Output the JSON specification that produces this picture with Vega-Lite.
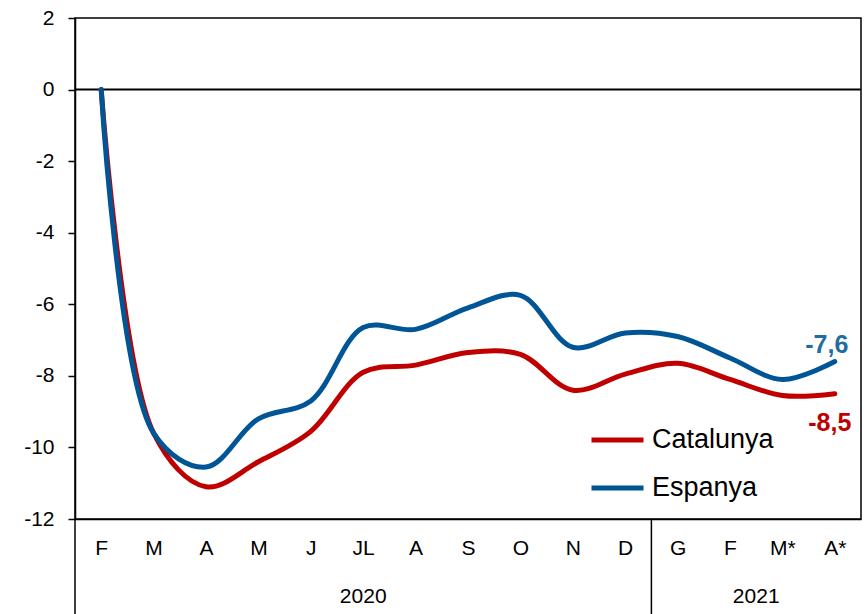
{
  "$schema": "https://vega.github.io/schema/vega-lite/v6.json",
  "width": 786,
  "height": 501,
  "autosize": {"type": "none"},
  "padding": {"left": 75, "top": 18, "right": 5, "bottom": 95},
  "background": "white",
  "view": {"stroke": "black", "strokeWidth": 1.5},
  "config": {"font": "Liberation Sans"},
  "datasets": {
    "series": [
      {"idx": 0, "month": "F", "serie": "Catalunya", "value": 0},
      {"idx": 1, "month": "M", "serie": "Catalunya", "value": -9.6},
      {"idx": 2, "month": "A", "serie": "Catalunya", "value": -11.1},
      {"idx": 3, "month": "M", "serie": "Catalunya", "value": -10.4},
      {"idx": 4, "month": "J", "serie": "Catalunya", "value": -9.55},
      {"idx": 5, "month": "JL", "serie": "Catalunya", "value": -7.9},
      {"idx": 6, "month": "A", "serie": "Catalunya", "value": -7.7},
      {"idx": 7, "month": "S", "serie": "Catalunya", "value": -7.35},
      {"idx": 8, "month": "O", "serie": "Catalunya", "value": -7.4},
      {"idx": 9, "month": "N", "serie": "Catalunya", "value": -8.4},
      {"idx": 10, "month": "D", "serie": "Catalunya", "value": -7.95},
      {"idx": 11, "month": "G", "serie": "Catalunya", "value": -7.65},
      {"idx": 12, "month": "F", "serie": "Catalunya", "value": -8.1},
      {"idx": 13, "month": "M*", "serie": "Catalunya", "value": -8.55},
      {"idx": 14, "month": "A*", "serie": "Catalunya", "value": -8.5},
      {"idx": 0, "month": "F", "serie": "Espanya", "value": 0},
      {"idx": 1, "month": "M", "serie": "Espanya", "value": -9.6},
      {"idx": 2, "month": "A", "serie": "Espanya", "value": -10.55},
      {"idx": 3, "month": "M", "serie": "Espanya", "value": -9.2},
      {"idx": 4, "month": "J", "serie": "Espanya", "value": -8.7},
      {"idx": 5, "month": "JL", "serie": "Espanya", "value": -6.65},
      {"idx": 6, "month": "A", "serie": "Espanya", "value": -6.7},
      {"idx": 7, "month": "S", "serie": "Espanya", "value": -6.1},
      {"idx": 8, "month": "O", "serie": "Espanya", "value": -5.75},
      {"idx": 9, "month": "N", "serie": "Espanya", "value": -7.2},
      {"idx": 10, "month": "D", "serie": "Espanya", "value": -6.8},
      {"idx": 11, "month": "G", "serie": "Espanya", "value": -6.9},
      {"idx": 12, "month": "F", "serie": "Espanya", "value": -7.5},
      {"idx": 13, "month": "M*", "serie": "Espanya", "value": -8.1},
      {"idx": 14, "month": "A*", "serie": "Espanya", "value": -7.6}
    ],
    "esp_label": [
      {"idx": 14, "serie": "Espanya", "value": -7.6, "label": "-7,6"}
    ],
    "cat_label": [
      {"idx": 14, "serie": "Catalunya", "value": -8.5, "label": "-8,5"}
    ],
    "years": [
      {"pos": 5, "year": "2020"},
      {"pos": 12.5, "year": "2021"}
    ],
    "seps": [
      {"pos": -0.5},
      {"pos": 10.5}
    ]
  },
  "layer": [
    {
      "data": {"values": [{"v": 0}]},
      "mark": {"type": "rule", "color": "black", "strokeWidth": 2},
      "encoding": {
        "y": {"field": "v", "type": "quantitative", "scale": {"domain": [-12, 2]}}
      }
    },
    {
      "data": {"name": "seps"},
      "mark": {"type": "rule", "color": "black", "strokeWidth": 1.5},
      "encoding": {
        "x": {"field": "pos", "type": "quantitative"},
        "y": {"datum": -12},
        "y2": {"datum": -14.7}
      }
    },
    {
      "data": {"name": "series"},
      "mark": {"type": "line", "interpolate": "catmull-rom", "strokeWidth": 5, "strokeCap": "round"},
      "encoding": {
        "x": {
          "field": "idx",
          "type": "quantitative",
          "scale": {"domain": [-0.5, 14.5], "nice": false, "zero": false},
          "axis": {
            "title": null,
            "values": [0, 1, 2, 3, 4, 5, 6, 7, 8, 9, 10, 11, 12, 13, 14],
            "labelExpr": "['F','M','A','M','J','JL','A','S','O','N','D','G','F','M*','A*'][datum.value]",
            "ticks": false,
            "grid": false,
            "domainColor": "black",
            "domainWidth": 1.5,
            "labelFont": "Liberation Sans",
            "labelFontSize": 21,
            "labelColor": "black",
            "labelPadding": 18,
            "labelFlush": false,
            "labelOverlap": false
          }
        },
        "y": {
          "field": "value",
          "type": "quantitative",
          "scale": {"domain": [-12, 2], "nice": false, "zero": false},
          "axis": {
            "title": null,
            "values": [-12, -10, -8, -6, -4, -2, 0, 2],
            "labelExpr": "replace(datum.label, '\u2212', '-')",
            "grid": false,
            "tickSize": 7,
            "tickColor": "black",
            "tickWidth": 1.5,
            "domainColor": "black",
            "domainWidth": 1.5,
            "labelFontSize": 21,
            "labelColor": "black",
            "labelPadding": 14,
            "labelFlush": false
          }
        },
        "color": {
          "field": "serie",
          "type": "nominal",
          "scale": {"domain": ["Catalunya", "Espanya"], "range": ["#C00000", "#005596"]},
          "legend": {
            "title": null,
            "orient": "none",
            "legendX": 514,
            "legendY": 402,
            "symbolType": "stroke",
            "symbolSize": 2704,
            "symbolStrokeWidth": 5,
            "clipHeight": 40,
            "rowPadding": 8,
            "labelFontSize": 27,
            "labelColor": "black",
            "labelOffset": 6
          }
        }
      }
    },
    {
      "data": {"name": "esp_label"},
      "mark": {"type": "text", "fontWeight": "bold", "fontSize": 25, "align": "center", "baseline": "middle", "color": "#1F6E9E", "dy": -17, "dx": -8},
      "encoding": {
        "x": {"field": "idx", "type": "quantitative"},
        "y": {"field": "value", "type": "quantitative"},
        "text": {"field": "label"}
      }
    },
    {
      "data": {"name": "cat_label"},
      "mark": {"type": "text", "fontWeight": "bold", "fontSize": 25, "align": "center", "baseline": "middle", "color": "#C00000", "dy": 29, "dx": -5},
      "encoding": {
        "x": {"field": "idx", "type": "quantitative"},
        "y": {"field": "value", "type": "quantitative"},
        "text": {"field": "label"}
      }
    },
    {
      "data": {"name": "years"},
      "mark": {"type": "text", "fontSize": 21, "font": "Liberation Sans", "align": "center", "baseline": "middle", "color": "black"},
      "encoding": {
        "x": {"field": "pos", "type": "quantitative"},
        "y": {"datum": -14.18},
        "text": {"field": "year"}
      }
    }
  ],
  "resolve": {"scale": {"color": "independent"}}
}
